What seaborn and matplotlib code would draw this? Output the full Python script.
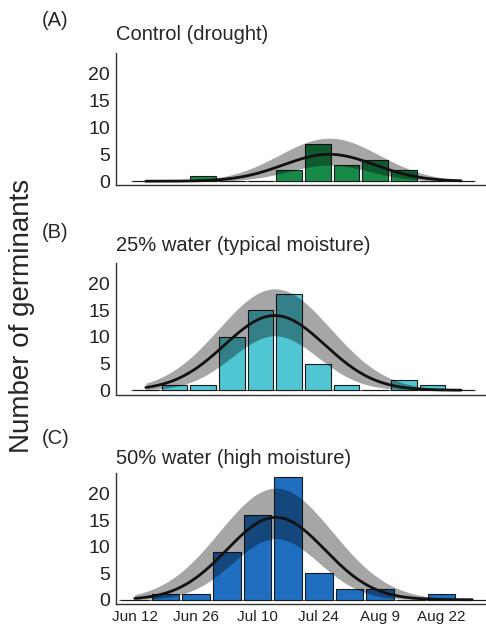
import numpy as np
import matplotlib
matplotlib.use("Agg")
import matplotlib.pyplot as plt
import seaborn as sns

# weekly bins, ticks on every second week
bins = list(range(12))
tick_bins = [0, 2, 4, 6, 8, 10]
tick_labels = ["Jun 12", "Jun 26", "Jul 10", "Jul 24", "Aug 9", "Aug 22"]

panel_tags = ["(A)", "(B)", "(C)"]
panel_titles = ["Control (drought)", "25% water (typical moisture)", "50% water (high moisture)"]
bar_colors = ["#178a48", "#50c6d2", "#1f6ebf"]

counts_control = [0, 0, 1, 0, 0, 2, 7, 3, 4, 2, 0, 0]
counts_25 = [0, 1, 1, 10, 15, 18, 5, 1, 0, 2, 1, 0]
counts_50 = [0, 1, 1, 9, 16, 23, 5, 2, 2, 0, 1, 0]

# fitted normal curve per panel: peak height, centre (in bins), spread (in bins)
fit_peak = [5.0, 14.0, 15.5]
fit_centre = [6.4, 4.5, 4.6]
fit_sd = [1.6, 1.75, 1.6]
# confidence band edges
band_hi_peak = [8.0, 19.0, 21.0]
band_hi_sd = [1.75, 1.95, 1.85]
band_lo_peak = [3.0, 10.2, 11.5]
band_lo_sd = [1.4, 1.5, 1.4]


def bell(x, peak, centre, sd):
	return peak * np.exp(-(x - centre) ** 2 / (2 * sd ** 2))


sns.set_style("white")
plt.rcParams['font.family'] = ['Liberation Sans', 'DejaVu Sans']

W, H = 486, 624
fig = plt.figure(figsize=(W / 100, H / 100), dpi=100)

# axes boxes in pixels: top, bottom
boxes = [(52.7, 185.5), (262.7, 394.5), (472.7, 604)]
xlims = [(-1.04, 11.87), (-1.04, 11.87), (-0.61, 11.45)]
title_y = [35, 246, 458]
tag_y = [21, 232, 439]
all_counts = [counts_control, counts_25, counts_50]

xs = np.linspace(0, 11, 300)

for k in range(3):
	top, bot = boxes[k]
	ax = fig.add_axes([116 / W, 1 - bot / H, 1 - 116 / W, (bot - top) / H])

	ax.hlines(0, -0.5, 11.5, color="#555555", lw=0.8, zorder=1)
	sns.barplot(x=bins, y=all_counts[k], color=bar_colors[k], saturation=1,
		edgecolor="#1a1a1a", linewidth=0.8, width=0.9, ax=ax, zorder=2)

	hi = bell(xs, band_hi_peak[k], fit_centre[k], band_hi_sd[k])
	lo = bell(xs, band_lo_peak[k], fit_centre[k], band_lo_sd[k])
	ax.fill_between(xs, lo, hi, color="black", alpha=0.35, lw=0, zorder=3)
	ax.plot(xs, bell(xs, fit_peak[k], fit_centre[k], fit_sd[k]), color="#111111", lw=2.0, zorder=4)

	ax.set_xlim(*xlims[k])
	ax.set_ylim(-0.8, 23.9)
	ax.set_yticks([0, 5, 10, 15, 20])
	ax.tick_params(axis="y", labelsize=14, length=2.5, width=0.8, pad=2, colors="#222222")
	ax.set_xlabel("")
	ax.set_ylabel("")
	if k == 2:
		ax.set_xticks(tick_bins)
		ax.set_xticklabels(tick_labels)
		ax.tick_params(axis="x", labelsize=11, length=2.5, width=0.8, pad=1.5, colors="#222222")
	else:
		ax.set_xticks([])
	sns.despine(ax=ax)
	for s in ["left", "bottom"]:
		ax.spines[s].set_linewidth(1.0)
		ax.spines[s].set_color("#333333")

	fig.text(116 / W, 1 - title_y[k] / H, panel_titles[k], fontsize=14.5, va="center", ha="left")
	fig.text(42 / W, 1 - tag_y[k] / H, panel_tags[k], fontsize=14.5, va="center", ha="left")

fig.text(22.5 / W, 1 - 316 / H, "Number of germinants", fontsize=20, rotation=90,
	va="center", ha="center")

fig.savefig("out.png", dpi=100)
